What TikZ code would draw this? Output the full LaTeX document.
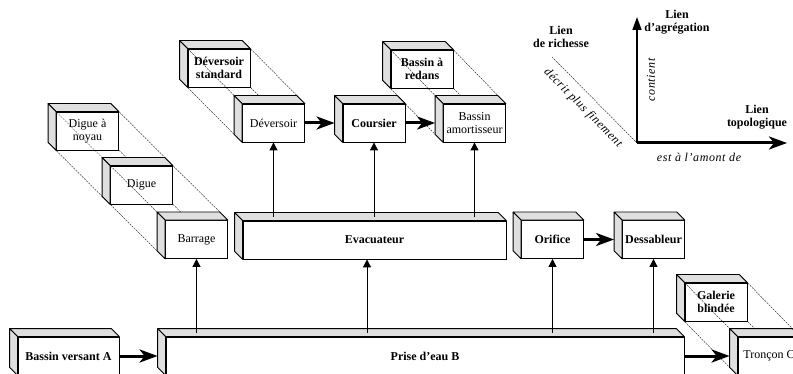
\documentclass[tikz,border=0pt]{standalone}
\usepackage{fontspec}
\setmainfont{Liberation Serif}
\usetikzlibrary{arrows.meta,calc}

% depth of the shaded faces of a block
\def\bd{8}

% shaded top and left faces of a block node
\newcommand\blockfaces[1]{%
  \filldraw[face] (#1.north west) -- ++(-\bd,-\bd) -- ($(#1.north east)+(-\bd,-\bd)$) -- (#1.north east) -- cycle;
  \filldraw[face] (#1.north west) -- ++(-\bd,-\bd) -- ($(#1.south west)+(-\bd,-\bd)$) -- (#1.south west) -- cycle;
}

% thin construction lines joining a block to its finer description
\newcommand\refines[2]{%
  \draw[hint] ($(#1.north west)+(-\bd,-\bd)$) -- ($(#2.north west)+(-\bd,-\bd)$);
  \draw[hint] ($(#1.north east)+(-\bd,-\bd)$) -- ($(#2.north east)+(-\bd,-\bd)$);
  \draw[hint] ($(#1.south west)+(-\bd,-\bd)$) -- ($(#2.south west)+(-\bd,-\bd)$);
  \draw[hint] let \p1=(#1.south east), \p2=(#2.north west) in
    (\p1) -- ++({\y1-\y2-\bd pt},{\y2+\bd pt-\y1});
}

\begin{document}
\begin{tikzpicture}[x=1pt,y=-1pt,
  cube/.style={draw, fill=white, line width=0.8pt, inner sep=1pt, align=center,
    minimum width=62pt, minimum height=38pt, font=\fontsize{12}{13}\selectfont},
  cubeb/.style={cube, font=\fontsize{12}{13}\selectfont\bfseries},
  face/.style={draw, fill=gray!25, line width=0.8pt, line join=round},
  hint/.style={line width=0.35pt, dash pattern=on 2pt off 1pt},
  flow/.style={line width=3pt, -{Stealth[length=18pt,width=13pt,inset=5pt]}},
  part/.style={line width=0.8pt, -{Triangle[length=8pt,width=8pt]}},
  lbl/.style={font=\fontsize{12}{13}\selectfont\bfseries, align=center},
  rel/.style={font=\fontsize{12}{13}\selectfont\itshape\addfontfeature{LetterSpace=5}}]

\useasboundingbox (0,0) rectangle (793,374);
\clip (0,0) rectangle (793,374);

% blocks
\node[cube]  (dnoyau)    at (87.5,131)   {Digue à\\noyau};
\node[cube]  (digue)     at (141.5,185)  {Digue};
\node[cube]  (barrage)   at (196.5,239.5){Barrage};
\node[cubeb] (devstd)    at (219,68)     {Déversoir\\standard};
\node[cube]  (deversoir) at (273.5,123)  {Déversoir};
\node[cubeb] (coursier)  at (374,123)    {Coursier};
\node[cubeb] (redans)    at (422,69)     {Bassin à\\redans};
\node[cube]  (amort)     at (474.5,123)  {Bassin\\amortisseur};
\node[cubeb, minimum width=263pt] (evac) at (374.5,240) {Evacuateur};
\node[cubeb] (orifice)   at (552.5,239.5){Orifice};
\node[cubeb] (dessab)    at (653.5,239.5){Dessableur};
\node[cubeb] (galerie)   at (716,302)    {Galerie\\blindée};
\node[cube]  (troncon)   at (769,356)    {Tronçon C};
\node[cubeb, minimum width=518pt] (prise)    at (425,356)  {Prise d'eau B};
\node[cubeb, minimum width=101pt] (bversant) at (68.5,356) {Bassin versant A};

\foreach \b in {dnoyau,digue,barrage,devstd,deversoir,coursier,redans,amort,
                evac,orifice,dessab,galerie,troncon,prise,bversant}
  {\blockfaces{\b}}

% finer descriptions
\refines{dnoyau}{digue}
\refines{digue}{barrage}
\refines{devstd}{deversoir}
\refines{redans}{amort}
\refines{galerie}{troncon}

% topological links
\draw[flow] (deversoir.east) -- ([xshift=-8pt]coursier.west);
\draw[flow] (coursier.east) -- ([xshift=-8pt]amort.west);
\draw[flow] (orifice.east) -- ([xshift=-8pt]dessab.west);
\draw[flow] (bversant.east) -- ([xshift=-8pt]prise.west);
\draw[flow] (prise.east) -- ([xshift=-8pt]troncon.west);

% aggregation links
\draw[part] ($(prise.north -| barrage.south)+(0,-4)$) -- (barrage.south);
\draw[part] ($(prise.north -| evac.south)+(-7.5,-4)$) -- ([xshift=-7.5pt]evac.south);
\draw[part] ($(prise.north -| orifice.south)+(0,-4)$) -- (orifice.south);
\draw[part] ($(prise.north -| dessab.south)+(0,-4)$) -- (dessab.south);
\draw[part] ($(evac.north -| deversoir.south)+(0,-4)$) -- (deversoir.south);
\draw[part] ($(evac.north -| coursier.south)+(0,-4)$) -- (coursier.south);
\draw[part] ($(evac.north -| amort.south)+(0,-4)$) -- (amort.south);

% legend
\coordinate (orig)    at (637,143);
\coordinate (aggtip)  at (637,17);
\coordinate (topotip) at (787,143);
\coordinate (richend) at (552,57);
\draw[line width=1.6pt, -{Triangle[length=13pt,width=9pt]}] (orig) -- (aggtip);
\draw[flow] (orig) -- (topotip);
\draw[hint] (richend) -- (orig);

\node[lbl] (lrich) at (561,37)  {Lien\\de richesse};
\node[lbl] (lagr)  at (677,22)  {Lien\\d'agrégation};
\node[lbl] (ltopo) at (757,117) {Lien\\topologique};
\node[rel, rotate=-45] (tdecrit) at (583,108) {décrit plus finement};
\node[rel, rotate=90]  (tcont)   at (651,80)  {contient};
\node[rel] (tamont) at (699,157) {est à l'amont de};
\end{tikzpicture}
\end{document}
